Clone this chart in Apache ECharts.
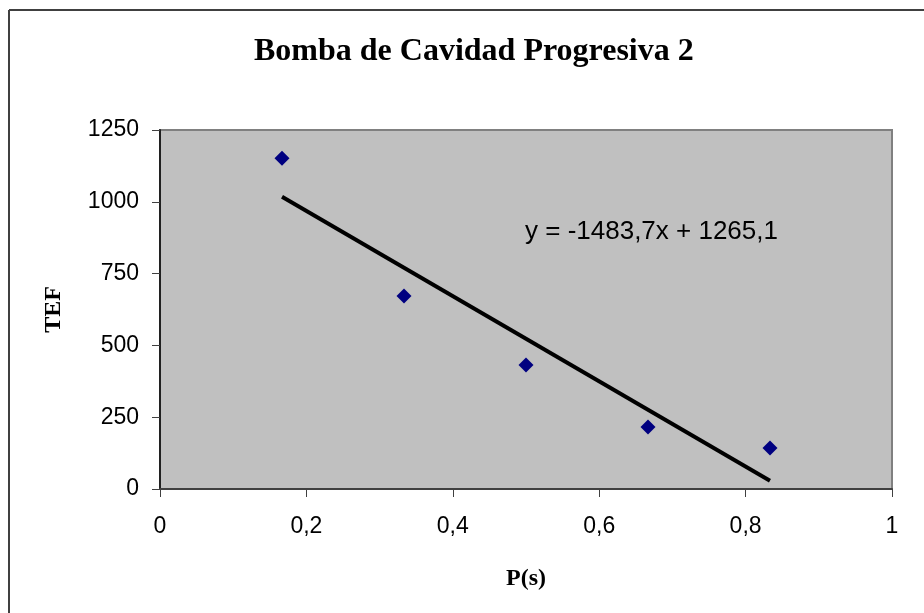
<!DOCTYPE html>
<html>
<head>
<meta charset="utf-8">
<script src="https://cdn.jsdelivr.net/npm/echarts@6/dist/echarts.min.js"></script>
<style>
  html, body { margin: 0; padding: 0; background: #fff; }
  #chart { width: 924px; height: 613px; }
</style>
</head>
<body>
<div id="chart"></div>
<script>
// datos
const xValues = [0.1667, 0.3333, 0.5, 0.6667, 0.8333]
const tefValues = [1152, 672, 432, 216, 143]
const slope = -1483.7
const intercept = 1265.1

const points = xValues.map((x, i) => [x, tefValues[i]])
const xMin = Math.min(...xValues)
const xMax = Math.max(...xValues)
const trend = [xMin, xMax].map(x => [x, slope * x + intercept])

const fmt = v => String(v).replace('.', ',')

const chart = echarts.init(document.getElementById('chart'))
chart.setOption({
  animation: false,
  backgroundColor: '#fff',
  title: {
    text: 'Bomba de Cavidad Progresiva 2',
    left: 249,
    top: 31,
    textStyle: { fontFamily: 'Liberation Serif', fontWeight: 'bold', fontSize: 32, color: '#000' }
  },
  graphic: [
    { type: 'line', shape: { x1: 9, y1: 10, x2: 9, y2: 613 }, style: { stroke: '#404040', lineWidth: 2 } },
    { type: 'line', shape: { x1: 9, y1: 10, x2: 924, y2: 10 }, style: { stroke: '#404040', lineWidth: 2 } },
    {
      type: 'text', left: 525, top: 219,
      style: { text: 'y = ' + fmt(slope) + 'x + ' + fmt(intercept), fontFamily: 'Liberation Sans', fontSize: 26, fill: '#000' }
    }
  ],
  grid: {
    left: 160, right: 32, top: 130, bottom: 124,
    show: true, backgroundColor: '#c0c0c0', borderColor: '#808080', borderWidth: 2
  },
  xAxis: {
    type: 'value', min: 0, max: 1, interval: 0.2,
    name: 'P(s)', nameLocation: 'middle', nameGap: 78,
    nameTextStyle: { fontFamily: 'Liberation Serif', fontWeight: 'bold', fontSize: 24, color: '#000' },
    axisLine: { onZero: false, lineStyle: { color: '#404040', width: 2 } },
    axisTick: { show: true, length: 8, lineStyle: { color: '#404040' } },
    axisLabel: { margin: 26, fontFamily: 'Liberation Sans', fontSize: 23, color: '#000', formatter: v => fmt(+v.toFixed(1)) },
    splitLine: { show: false }
  },
  yAxis: {
    type: 'value', min: 0, max: 1250, interval: 250,
    name: 'TEF', nameLocation: 'middle', nameGap: 94, nameRotate: 90,
    nameTextStyle: { fontFamily: 'Liberation Serif', fontWeight: 'bold', fontSize: 24, color: '#000' },
    axisLine: { show: true, lineStyle: { color: '#202020', width: 2 } },
    axisTick: { show: true, length: 8, lineStyle: { color: '#404040' } },
    axisLabel: { margin: 21, fontFamily: 'Liberation Sans', fontSize: 23, color: '#000', formatter: v => String(v) },
    splitLine: { show: false }
  },
  series: [
    {
      type: 'line', data: trend, symbol: 'none', silent: true,
      lineStyle: { color: '#000', width: 4 }, z: 2
    },
    {
      type: 'scatter', data: points, symbol: 'diamond', symbolSize: 15,
      itemStyle: { color: '#000080', opacity: 1 }, z: 3
    }
  ]
})
</script>
</body>
</html>
